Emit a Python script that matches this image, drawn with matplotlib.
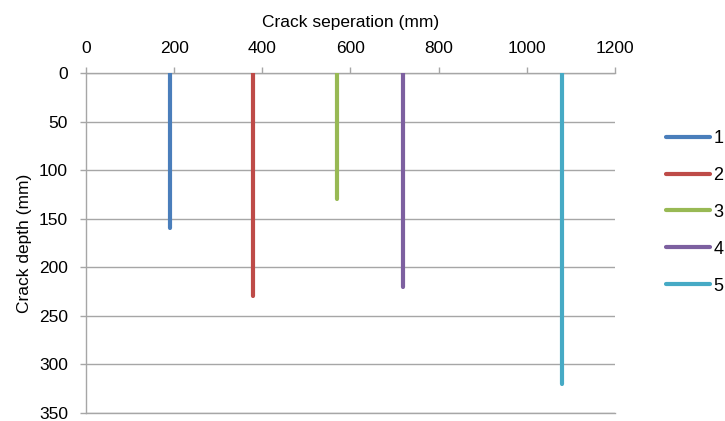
import matplotlib
matplotlib.use("Agg")
import matplotlib.pyplot as plt

# Crack locations along the beam and their measured depths
crack_ids = ["1", "2", "3", "4", "5"]
separation_mm = [190, 380, 570, 720, 1080]
depth_mm = [160, 230, 130, 220, 320]
colors = ["#4A7EBB", "#BE4B48", "#98B954", "#7D60A0", "#46AAC5"]

x_ticks = [0, 200, 400, 600, 800, 1000, 1200]
y_ticks = [0, 50, 100, 150, 200, 250, 300, 350]

plt.rcParams["font.family"] = ["Liberation Sans", "DejaVu Sans"]

fig = plt.figure(figsize=(7.25, 4.21), dpi=100)
ax = fig.add_axes([0.1186, 0.019, 0.7296, 0.8076])

for cid, x, d, c in zip(crack_ids, separation_mm, depth_mm, colors):
    ax.plot([x, x], [0, d], color=c, lw=3, solid_capstyle="round", label=cid, zorder=3)

ax.set_xlim(0, 1200)
ax.set_ylim(350, 0)
ax.set_xticks(x_ticks)
ax.set_yticks(y_ticks)
ax.xaxis.tick_top()
ax.xaxis.set_label_position("top")

grid_c = "#A6A6A6"
ax.yaxis.grid(True, color=grid_c, lw=1)
ax.set_axisbelow(True)
ax.spines["right"].set_visible(False)
for s in ["top", "left", "bottom"]:
    ax.spines[s].set_color(grid_c)
    ax.spines[s].set_linewidth(1)
ax.tick_params(axis="both", colors=grid_c, length=4.5, width=1, labelcolor="black", labelsize=12.5)
ax.tick_params(axis="y", pad=8.5)
ax.tick_params(axis="x", pad=7.5)

ax.set_xlabel("Crack seperation (mm)", fontsize=12.5, labelpad=10.5)
ax.set_ylabel("Crack depth (mm)", fontsize=12.5, labelpad=5)

ax.legend(loc="upper left", bbox_to_anchor=(0.918, 0.691), bbox_transform=fig.transFigure,
          frameon=False, fontsize=13, handlelength=2.45, handletextpad=0.2,
          labelspacing=1.1, borderpad=0, borderaxespad=0)

fig.savefig("out.png", dpi=100)
